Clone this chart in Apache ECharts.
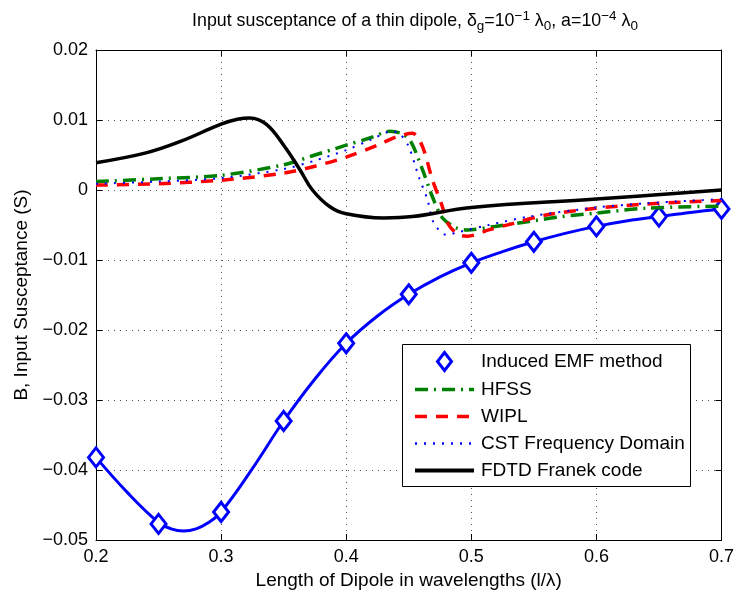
<!DOCTYPE html>
<html><head><meta charset="utf-8">
<script src="https://cdn.jsdelivr.net/npm/echarts@6/dist/echarts.min.js"></script>
<style>html,body{margin:0;padding:0;background:#fff}#c{width:737px;height:599px}</style>
</head><body><div id="c"></div>
<script>
// ---- data ----
const xTickValues = [0.2, 0.3, 0.4, 0.5, 0.6, 0.7];
const yTickValues = [-0.05, -0.04, -0.03, -0.02, -0.01, 0, 0.01, 0.02];

// Induced EMF method: markers
const emfMarkX = [0.2, 0.25, 0.3, 0.35, 0.4, 0.45, 0.5, 0.55, 0.6, 0.65, 0.7];
const emfMarkY = [-0.0382, -0.0477, -0.0460, -0.0330, -0.0219, -0.0149, -0.0104, -0.0074, -0.0052, -0.0038, -0.0027];
// Induced EMF method: continuous curve
const emfLineX = [0.2, 0.225, 0.25, 0.26, 0.27, 0.28, 0.29, 0.3, 0.325, 0.35, 0.375, 0.4, 0.425, 0.45, 0.475, 0.5, 0.525, 0.55, 0.575, 0.6, 0.625, 0.65, 0.675, 0.7];
const emfLineY = [-0.0382, -0.0432, -0.0475, -0.0484, -0.0487, -0.0484, -0.0475, -0.0460, -0.0398, -0.0330, -0.0270, -0.0219, -0.0180, -0.0149, -0.0124, -0.0104, -0.0088, -0.0074, -0.0062, -0.0052, -0.0044, -0.0038, -0.0032, -0.0027];

// HFSS
const hfssX = [0.2, 0.25, 0.3, 0.35, 0.375, 0.4, 0.42, 0.435, 0.445, 0.452, 0.461, 0.469, 0.477, 0.488, 0.497, 0.519, 0.546, 0.572, 0.6, 0.64, 0.7];
const hfssY = [0.0012, 0.0016, 0.0021, 0.0036, 0.0050, 0.0064, 0.0075, 0.0084, 0.0080, 0.0068, 0.0029, -0.0010, -0.0040, -0.0054, -0.0057, -0.0052, -0.0045, -0.0038, -0.0033, -0.0026, -0.0023];

// WIPL
const wiplX = [0.2, 0.25, 0.3, 0.35, 0.375, 0.4, 0.425, 0.44, 0.453, 0.461, 0.469, 0.476, 0.482, 0.49, 0.497, 0.514, 0.533, 0.559, 0.6, 0.64, 0.7];
const wiplY = [0.0007, 0.0009, 0.0014, 0.0024, 0.0034, 0.0047, 0.0064, 0.0076, 0.0081, 0.0062, 0.0014, -0.0019, -0.0050, -0.0064, -0.0066, -0.0057, -0.0048, -0.0036, -0.0026, -0.0020, -0.0015];

// CST Frequency Domain
const cstX = [0.2, 0.25, 0.3, 0.35, 0.375, 0.4, 0.42, 0.437, 0.443, 0.45, 0.458, 0.465, 0.47, 0.48, 0.49, 0.514, 0.546, 0.6, 0.64, 0.7];
const cstY = [0.0009, 0.0012, 0.0017, 0.0030, 0.0042, 0.0057, 0.0072, 0.0084, 0.0080, 0.0062, 0.0019, -0.0014, -0.0047, -0.0064, -0.0060, -0.0050, -0.0038, -0.0025, -0.0019, -0.0013];

// FDTD Franek code
const fdtdX = [0.2, 0.24, 0.267, 0.3, 0.313, 0.323, 0.336, 0.35, 0.363, 0.373, 0.387, 0.4, 0.43, 0.453, 0.5, 0.6, 0.7];
const fdtdY = [0.0039, 0.0053, 0.0069, 0.0094, 0.0101, 0.0103, 0.0094, 0.0064, 0.0029, 0.0000, -0.0024, -0.0034, -0.0040, -0.0038, -0.0025, -0.0013, 0.0000];

const seriesNames = ['Induced EMF method', 'HFSS', 'WIPL', 'CST Frequency Domain', 'FDTD Franek code'];
const xName = 'Length of Dipole in wavelengths (l/λ)';
const yName = 'B, Input Susceptance (S)';

// ---- build ----
const FF = 'Liberation Sans, Arial, Helvetica, sans-serif';
const zip = (xs, ys) => xs.map((x, i) => [x, ys[i]]);
const fmt = v => String(+v.toFixed(4)).replace('-', '\u2212');

const chart = echarts.init(document.getElementById('c'), null, {renderer: 'canvas'});

const axisCommon = {
  type: 'value',
  axisLine: {show: true, onZero: false, lineStyle: {color: '#000', width: 1}},
  axisTick: {show: true, inside: true, length: 6, lineStyle: {color: '#000', width: 1}},
};

const legendLineWidths = [0, 3.5, 3.5, 2.5, 4];
const legendData = seriesNames.map((n, i) => i === 0
  ? {name: n, icon: 'path://M0,-10L7.8,0L0,10L-7.8,0Z', itemStyle: {color: '#fff', borderColor: '#0000ff', borderWidth: 3, opacity: 1}}
  : {name: n, itemStyle: {opacity: 0}, lineStyle: {width: legendLineWidths[i]}});

chart.setOption({
  backgroundColor: '#fff',
  animation: false,
  title: {
    left: 410, top: 4, textAlign: 'center',
    text: '{a|Input susceptance of a thin dipole, δ}{sub|g}{a|=10}{sup|\u22121}{a| λ}{sub|0}{a|, a=10}{sup|\u22124}{a| λ}{sub|0}',
    textStyle: {
      fontWeight: 'normal',
      rich: {
        a: {fontFamily: FF, fontSize: 17.8, fontWeight: 'normal', color: '#000'},
        sub: {fontFamily: FF, fontSize: 13.5, fontWeight: 'normal', color: '#000', padding: [10, 0, 0, 0]},
        sup: {fontFamily: FF, fontSize: 13.5, fontWeight: 'normal', color: '#000', padding: [0, 0, 10, 0]}
      }
    }
  },
  grid: {left: 96, right: 14, top: 50, bottom: 59, containLabel: false},
  graphic: [{
    type: 'rect', left: 402, top: 344, z: 50,
    shape: {width: 288, height: 142},
    style: {fill: '#fff', stroke: '#000', lineWidth: 1}
  }],
  xAxis: [
    Object.assign({}, axisCommon, {
      position: 'bottom', min: xTickValues[0], max: xTickValues[xTickValues.length - 1], interval: 0.1,
      axisLabel: {color: '#000', fontFamily: FF, fontSize: 18, margin: 8, formatter: fmt},
      splitLine: {show: true, lineStyle: {color: '#555', type: [1, 5], width: 1}},
      name: xName, nameLocation: 'middle', nameGap: 30,
      nameTextStyle: {color: '#000', fontFamily: FF, fontSize: 19}
    }),
    Object.assign({}, axisCommon, {
      position: 'top', min: xTickValues[0], max: xTickValues[xTickValues.length - 1], interval: 0.1,
      axisLabel: {show: false}, splitLine: {show: false}
    })
  ],
  yAxis: [
    Object.assign({}, axisCommon, {
      position: 'left', min: yTickValues[0], max: yTickValues[yTickValues.length - 1], interval: 0.01,
      axisLabel: {color: '#000', fontFamily: FF, fontSize: 18, margin: 8, formatter: fmt},
      splitLine: {show: true, lineStyle: {color: '#555', type: [1, 5], width: 1}},
      name: yName, nameLocation: 'middle', nameGap: 55, nameRotate: 90,
      nameTextStyle: {color: '#000', fontFamily: FF, fontSize: 19}
    }),
    Object.assign({}, axisCommon, {
      position: 'right', min: yTickValues[0], max: yTickValues[yTickValues.length - 1], interval: 0.01,
      axisLabel: {show: false}, splitLine: {show: false}
    })
  ],
  legend: {
    orient: 'vertical', left: 402, top: 344, z: 60,
    padding: [7, 6, 6, 11],
    itemWidth: 59, itemHeight: 18, itemGap: 8,
    symbolKeepAspect: true,
    backgroundColor: 'transparent', borderWidth: 0,
    textStyle: {color: '#000', fontFamily: FF, fontSize: 19, padding: [0, 0, 0, 2]},
    data: legendData
  },
  series: [
    {
      name: '__emfline', type: 'line', data: zip(emfLineX, emfLineY), smooth: 0.4, symbol: 'none',
      lineStyle: {color: '#0000ff', width: 3}, z: 2
    },
    {
      name: seriesNames[0], type: 'scatter', data: zip(emfMarkX, emfMarkY), symbol: 'diamond', symbolSize: [15, 19],
      itemStyle: {color: '#fff', borderColor: '#0000ff', borderWidth: 3, opacity: 1}, z: 3
    },
    {
      name: seriesNames[1], type: 'line', data: zip(hfssX, hfssY), smooth: 0.3, symbol: 'none',
      itemStyle: {color: '#008000'},
      lineStyle: {color: '#008000', width: 3.5, type: [13, 6, 2, 6], cap: 'butt'}, z: 4
    },
    {
      name: seriesNames[2], type: 'line', data: zip(wiplX, wiplY), smooth: 0.3, symbol: 'none',
      itemStyle: {color: '#ff0000'},
      lineStyle: {color: '#ff0000', width: 3.5, type: [12, 9], cap: 'butt'}, z: 5
    },
    {
      name: seriesNames[3], type: 'line', data: zip(cstX, cstY), smooth: 0.3, symbol: 'none',
      itemStyle: {color: '#0000ff'},
      lineStyle: {color: '#0000ff', width: 2, type: [2, 7], cap: 'butt'}, z: 6
    },
    {
      name: seriesNames[4], type: 'line', data: zip(fdtdX, fdtdY), smooth: 0.4, symbol: 'none',
      itemStyle: {color: '#000'},
      lineStyle: {color: '#000', width: 3.5}, z: 7
    }
  ]
});
</script>
</body></html>
